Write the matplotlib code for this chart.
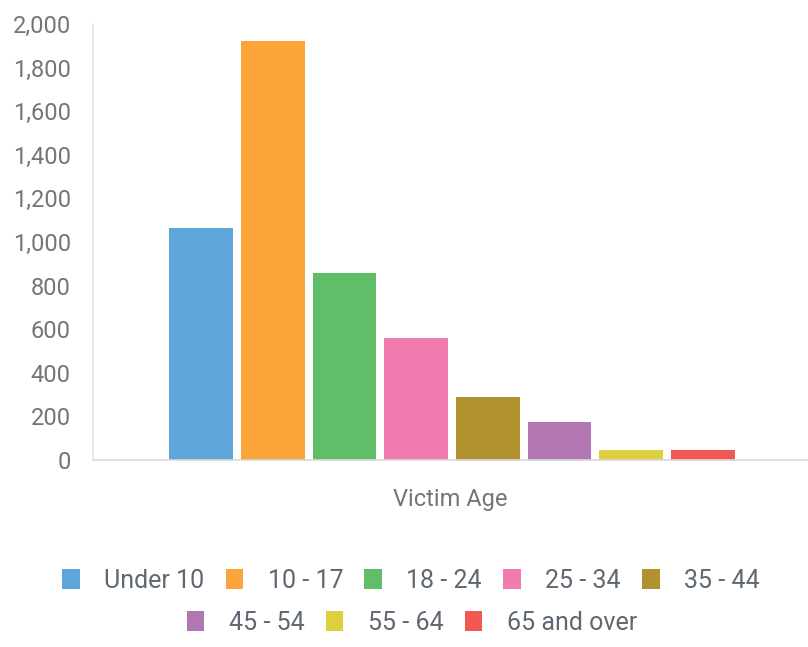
import numpy as np
import matplotlib.pyplot as plt
from matplotlib.patches import Patch

plt.rcParams['font.family'] = ['Roboto', 'DejaVu Sans']

# data
age_groups = ['Under 10', '10 - 17', '18 - 24', '25 - 34', '35 - 44',
              '45 - 54', '55 - 64', '65 and over']
victims = [1063, 1922, 856, 558, 291, 173, 46, 44]
colors = ['#5DA5DA', '#FAA43A', '#60BD68', '#F17CB0', '#B2912F',
          '#B276B2', '#DECF3F', '#F15854']
y_ticks = [0, 200, 400, 600, 800, 1000, 1200, 1400, 1600, 1800, 2000]

fig = plt.figure(figsize=(8.08, 6.47), dpi=100)
ax = fig.add_axes([93 / 808, 1 - 460 / 647, 1 - 93 / 808, 436 / 647])

# one group of bars around a single category
step = 0.1125
width = 0.1
pos = (np.arange(len(victims)) - 3.5) * step
ax.bar(pos, victims, width=width, color=colors)

ax.set_xlim(-0.5636, 0.5587)
ax.set_ylim(0, 2000)
ax.set_yticks(y_ticks)
ax.set_yticklabels([f'{v:,}' for v in y_ticks])
ax.set_xticks([])
ax.tick_params(axis='y', length=0, pad=16, labelsize=17, labelcolor='#757575')

for s in ['top', 'right']:
    ax.spines[s].set_visible(False)
ax.spines['left'].set_color('#e6e6e6')
ax.spines['bottom'].set_color('#d9d9d9')
ax.spines['left'].set_linewidth(1.2)
ax.spines['bottom'].set_linewidth(1.2)

ax.set_xlabel('Victim Age', fontsize=17, color='#757575', labelpad=20)

# legend, two centered rows
handles = [Patch(facecolor=c, edgecolor='none') for c in colors]
kw = dict(loc='center', frameon=False, fontsize=18, handlelength=0.7,
          handleheight=0.85, handletextpad=0.98, columnspacing=0.85,
          labelcolor='#5f6870')
leg1 = fig.legend(handles[:5], age_groups[:5], ncol=5,
                  bbox_to_anchor=(411 / 808, 1 - 581 / 647), **kw)
leg2 = fig.legend(handles[5:], age_groups[5:], ncol=3,
                  bbox_to_anchor=(412 / 808, 1 - 623 / 647), **kw)

plt.savefig('out.png', dpi=100)
